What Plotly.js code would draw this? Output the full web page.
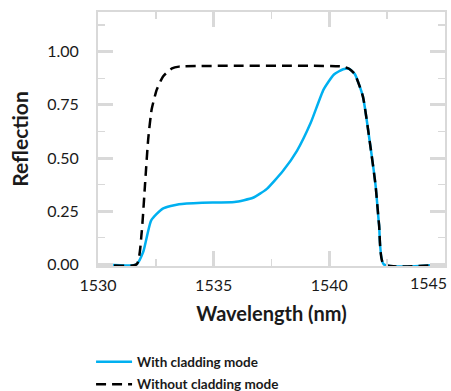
<!DOCTYPE html>
<html>
<head>
<meta charset="utf-8">
<script src="https://cdn.plot.ly/plotly-3.0.1.min.js"></script>
<style>html,body{margin:0;padding:0;background:#fff;}#chart{width:451px;height:391px;}</style>
</head>
<body>
<div id="chart"></div>
<script>
var withX = [1530, 1531.67, 1531.96, 1532.3, 1532.8, 1533.5, 1534.5, 1535.9, 1536.7, 1537.3, 1538.0, 1538.6, 1539.2, 1539.75, 1540.2, 1540.6, 1540.85, 1541.1, 1541.45, 1541.75, 1542.0, 1542.15, 1542.35, 1545];
var withY = [0, 0, 0.06, 0.207, 0.262, 0.283, 0.29, 0.293, 0.313, 0.355, 0.44, 0.534, 0.667, 0.822, 0.893, 0.918, 0.92, 0.895, 0.79, 0.575, 0.37, 0.185, 0, 0];
var withoutX = [1530, 1531.67, 1531.89, 1532.03, 1532.17, 1532.32, 1532.54, 1532.82, 1533.2, 1533.5, 1540.6, 1540.85, 1541.1, 1541.45, 1541.75, 1542.0, 1542.15, 1542.35, 1545];
var withoutY = [0, 0, 0.153, 0.371, 0.589, 0.729, 0.822, 0.885, 0.922, 0.93, 0.93, 0.92, 0.895, 0.79, 0.575, 0.37, 0.185, 0, 0];
var xTickVals = [1530, 1535, 1540, 1545];
var xTickText = ['1530', '1535', '1540', '1545'];
var yTickVals = [0, 0.25, 0.5, 0.75, 1.0];
var yTickText = ['0.00', '0.25', '0.50', '0.75', '1.00'];

var grid = '#d9d9d9';
var txt = '#1a1a1a';
var fam = 'Lato, "Open Sans", sans-serif';
var nb = '\u00a0\u00a0\u00a0\u00a0';

// last x tick label is drawn right-aligned at its tick so it stays inside the page
var shownXText = xTickText.slice(0, -1).concat(['']);
var lastIdx = xTickVals.length - 1;

var traces = [
  {x: withX, y: withY, mode: 'lines', name: '<b>With cladding mode</b>',
   line: {color: '#00b0f0', width: 2.5, shape: 'spline', smoothing: 0.5}, legend: 'legend'},
  {x: withoutX, y: withoutY, mode: 'lines', name: '<b>Without cladding mode</b>',
   line: {color: '#000000', width: 2.5, dash: '10px,6px', shape: 'spline', smoothing: 0.5}, legend: 'legend2'}
];

var layout = {
  width: 451, height: 391,
  margin: {l: 98, r: 6, t: 12, b: 125, autoexpand: false},
  paper_bgcolor: '#fff', plot_bgcolor: '#fff',
  showlegend: true,
  font: {family: fam, color: txt},
  xaxis: {
    range: [1530, 1545], tickvals: xTickVals, ticktext: shownXText,
    showgrid: false, zeroline: false,
    showline: true, linecolor: grid, linewidth: 2, mirror: 'allticks',
    ticks: 'inside', ticklen: 15, tickwidth: 3, tickcolor: grid,
    minor: {dtick: 2.5, ticks: 'inside', ticklen: 7, tickwidth: 1.5, tickcolor: grid, showgrid: false},
    tickfont: {size: 16, color: txt, family: fam},
    ticklabelstandoff: 4,
    title: {text: '<b>Wavelength (nm)</b>' + nb + nb, font: {size: 20, color: txt, family: fam}, standoff: 14},
    fixedrange: true
  },
  yaxis: {
    range: [-0.008, 1.187], tickvals: yTickVals, ticktext: yTickText,
    showgrid: false, zeroline: false,
    showline: true, linecolor: grid, linewidth: 2, mirror: 'allticks',
    ticks: 'inside', ticklen: 15, tickwidth: 3, tickcolor: grid,
    minor: {dtick: 0.125, ticks: 'inside', ticklen: 7, tickwidth: 1.5, tickcolor: grid, showgrid: false},
    tickfont: {size: 16, color: txt, family: fam},
    ticklabelstandoff: 14,
    title: {text: '<b>Reflection</b>', font: {size: 21, color: txt, family: fam}, standoff: 13},
    fixedrange: true
  },
  annotations: [{
    x: xTickVals[lastIdx], xref: 'x', y: 0, yref: 'paper', yanchor: 'top', xanchor: 'right',
    xshift: 4, yshift: -5, text: xTickText[lastIdx], showarrow: false,
    font: {size: 16, color: txt, family: fam}
  }],
  legend: {x: -0.02, xanchor: 'left', y: -0.378, yanchor: 'middle', bgcolor: 'rgba(0,0,0,0)',
           font: {size: 13.5, color: txt, family: fam}, itemwidth: 36},
  legend2: {x: -0.02, xanchor: 'left', y: -0.466, yanchor: 'middle', bgcolor: 'rgba(0,0,0,0)',
           font: {size: 13.5, color: txt, family: fam}, itemwidth: 36}
};

Plotly.newPlot('chart', traces, layout, {displayModeBar: false, staticPlot: true});
</script>
</body>
</html>
